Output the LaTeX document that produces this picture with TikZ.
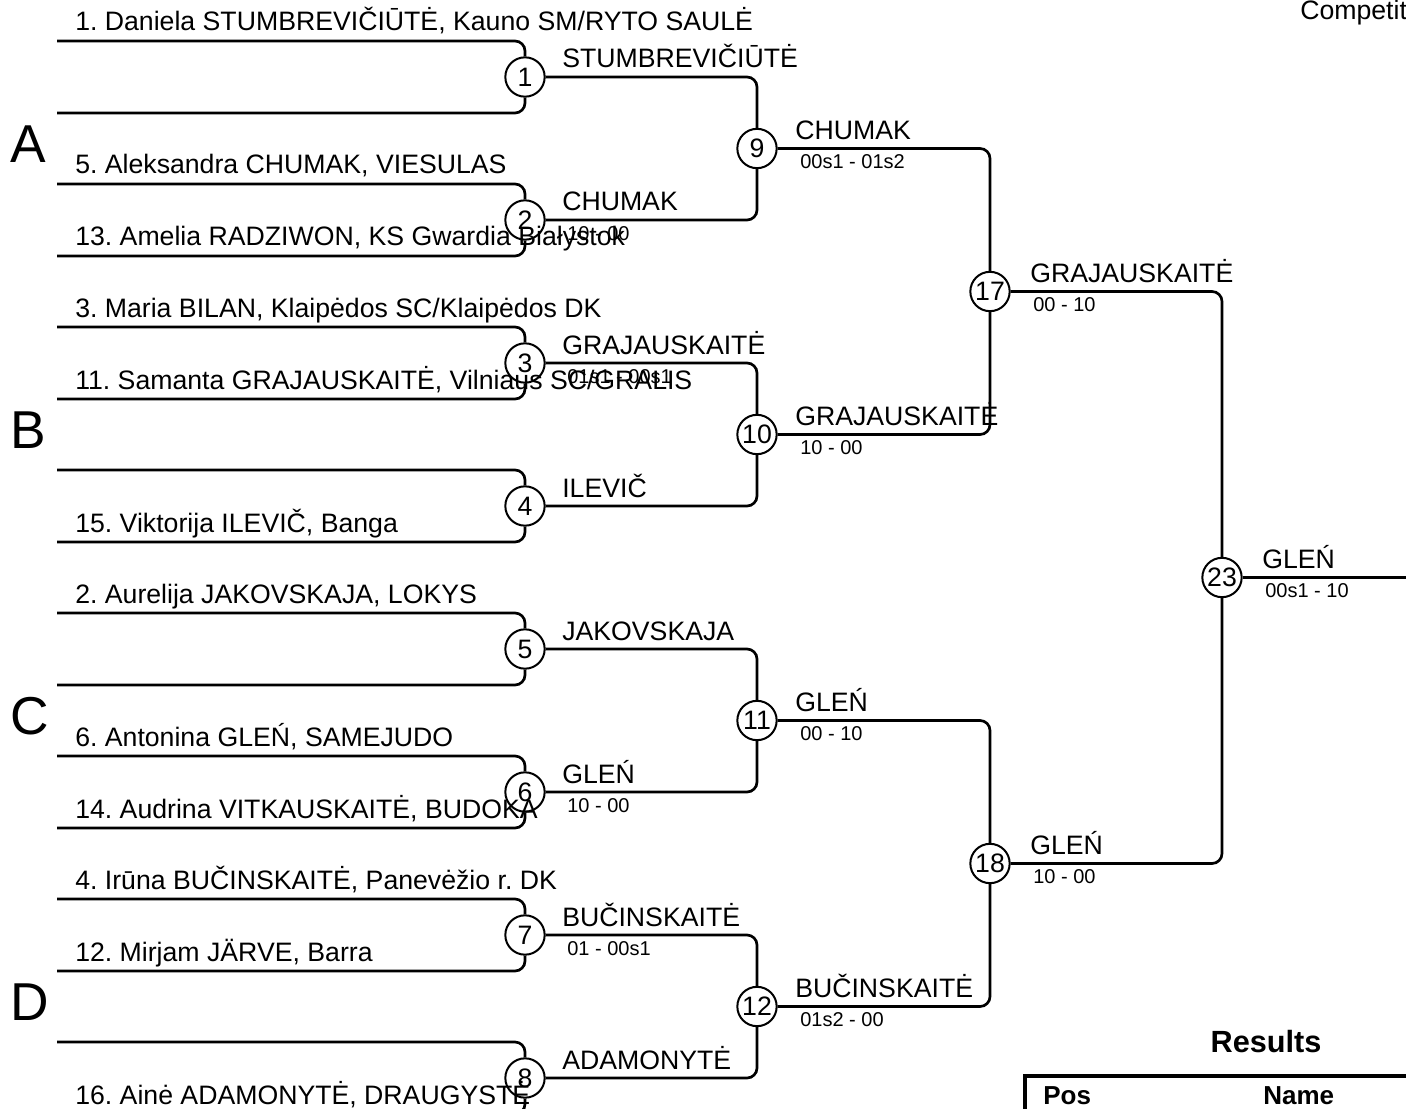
\documentclass[tikz,border=0pt]{standalone}
\usepackage{fontspec}
\setmainfont{Liberation Sans}
\usetikzlibrary{positioning}
\frenchspacing

\begin{document}
\begin{tikzpicture}[
    x=0.75pt, y=0.75pt,
    font=\fontsize{20}{24}\selectfont,
    % Define specific node styles
    match_node/.style={circle, draw=black, line width=1.5pt, fill=white, minimum size=29.5pt, inner sep=0pt},
    entrant_node/.style={anchor=base west, inner sep=0pt},
    winner_node/.style={anchor=base west, inner sep=0pt},
    score_node/.style={anchor=north west, inner sep=0pt, font=\fontsize{15}{18}\selectfont},
    pool_node/.style={anchor=base west, inner sep=0pt, font=\fontsize{40}{48}\selectfont},
    head_node/.style={anchor=base west, inner sep=0pt, font=\fontsize{19.5}{23}\selectfont\bfseries},
    bracket/.style={line width=2pt, rounded corners=7.5pt},
]
\useasboundingbox (0,0) rectangle (1406,-1109);

% Match circles, round by round
\node[match_node] (m1) at (525,-77) {1};
\node[match_node] (m2) at (525,-220) {2};
\node[match_node] (m3) at (525,-363) {3};
\node[match_node] (m4) at (525,-506) {4};
\node[match_node] (m5) at (525,-649) {5};
\node[match_node] (m6) at (525,-792) {6};
\node[match_node] (m7) at (525,-935) {7};
\node[match_node] (m8) at (525,-1078) {8};

\node[match_node] (m9) at (757,-148.5) {9};
\node[match_node] (m10) at (757,-434.5) {10};
\node[match_node] (m11) at (757,-720.5) {11};
\node[match_node] (m12) at (757,-1006.5) {12};

\node[match_node] (m17) at (990,-291.5) {17};
\node[match_node] (m18) at (990,-863.5) {18};

\node[match_node] (m23) at (1222,-577.5) {23};
\coordinate (final) at (1406,-577.5);

% Entrant line starts
\coordinate (e1) at (57,-41);   \coordinate (e2) at (57,-113);
\coordinate (e3) at (57,-184);  \coordinate (e4) at (57,-256);
\coordinate (e5) at (57,-327);  \coordinate (e6) at (57,-399);
\coordinate (e7) at (57,-470);  \coordinate (e8) at (57,-542);
\coordinate (e9) at (57,-613);  \coordinate (e10) at (57,-685);
\coordinate (e11) at (57,-756); \coordinate (e12) at (57,-828);
\coordinate (e13) at (57,-899); \coordinate (e14) at (57,-971);
\coordinate (e15) at (57,-1042); \coordinate (e16) at (57,-1114);

% Connections
\draw[bracket] (e1) -| (m1);  \draw[bracket] (e2) -| (m1);
\draw[bracket] (e3) -| (m2);  \draw[bracket] (e4) -| (m2);
\draw[bracket] (e5) -| (m3);  \draw[bracket] (e6) -| (m3);
\draw[bracket] (e7) -| (m4);  \draw[bracket] (e8) -| (m4);
\draw[bracket] (e9) -| (m5);  \draw[bracket] (e10) -| (m5);
\draw[bracket] (e11) -| (m6); \draw[bracket] (e12) -| (m6);
\draw[bracket] (e13) -| (m7); \draw[bracket] (e14) -| (m7);
\draw[bracket] (e15) -| (m8); \draw[bracket] (e16) -| (m8);

\draw[bracket] (m1) -| (m9);   \draw[bracket] (m2) -| (m9);
\draw[bracket] (m3) -| (m10);  \draw[bracket] (m4) -| (m10);
\draw[bracket] (m5) -| (m11);  \draw[bracket] (m6) -| (m11);
\draw[bracket] (m7) -| (m12);  \draw[bracket] (m8) -| (m12);

\draw[bracket] (m9) -| (m17);  \draw[bracket] (m10) -| (m17);
\draw[bracket] (m11) -| (m18); \draw[bracket] (m12) -| (m18);

\draw[bracket] (m17) -| (m23); \draw[bracket] (m18) -| (m23);
\draw[bracket] (m23) -- (final);

% Entrant names
\node[entrant_node] (n1) at (75,-31) {1. Daniela STUMBREVIČIŪTĖ, Kauno SM/RYTO SAULĖ};
\node[entrant_node] (n5) at (75,-174) {5. Aleksandra CHUMAK, VIESULAS};
\node[entrant_node] (n13) at (75,-246) {13. Amelia RADZIWON, KS Gwardia Białystok};
\node[entrant_node] (n3) at (75,-317) {3. Maria BILAN, Klaipėdos SC/Klaipėdos DK};
\node[entrant_node] (n11) at (75,-389) {11. Samanta GRAJAUSKAITĖ, Vilniaus SC/GRALIS};
\node[entrant_node] (n15) at (75,-532) {15. Viktorija ILEVIČ, Banga};
\node[entrant_node] (n2) at (75,-603) {2. Aurelija JAKOVSKAJA, LOKYS};
\node[entrant_node] (n6) at (75,-746) {6. Antonina GLEŃ, SAMEJUDO};
\node[entrant_node] (n14) at (75,-818) {14. Audrina VITKAUSKAITĖ, BUDOKA};
\node[entrant_node] (n4) at (75,-889) {4. Irūna BUČINSKAITĖ, Panevėžio r. DK};
\node[entrant_node] (n12) at (75,-961) {12. Mirjam JÄRVE, Barra};
\node[entrant_node] (n16) at (75,-1104) {16. Ainė ADAMONYTĖ, DRAUGYSTĖ};

% Winners and scores
\node[winner_node] (w1) at ([shift={(37,9)}]m1.center) {STUMBREVIČIŪTĖ};
\node[winner_node] (w2) at ([shift={(37,9)}]m2.center) {CHUMAK};
\node[score_node] (s2) at ([shift={(42,-6)}]m2.center) {10 - 00};
\node[winner_node] (w3) at ([shift={(37,9)}]m3.center) {GRAJAUSKAITĖ};
\node[score_node] (s3) at ([shift={(42,-6)}]m3.center) {01s1 - 00s1};
\node[winner_node] (w4) at ([shift={(37,9)}]m4.center) {ILEVIČ};
\node[winner_node] (w5) at ([shift={(37,9)}]m5.center) {JAKOVSKAJA};
\node[winner_node] (w6) at ([shift={(37,9)}]m6.center) {GLEŃ};
\node[score_node] (s6) at ([shift={(42,-6)}]m6.center) {10 - 00};
\node[winner_node] (w7) at ([shift={(37,9)}]m7.center) {BUČINSKAITĖ};
\node[score_node] (s7) at ([shift={(42,-6)}]m7.center) {01 - 00s1};
\node[winner_node] (w8) at ([shift={(37,9)}]m8.center) {ADAMONYTĖ};

\node[winner_node] (w9) at ([shift={(38,9)}]m9.center) {CHUMAK};
\node[score_node] (s9) at ([shift={(43,-6)}]m9.center) {00s1 - 01s2};
\node[winner_node] (w10) at ([shift={(38,9)}]m10.center) {GRAJAUSKAITĖ};
\node[score_node] (s10) at ([shift={(43,-6)}]m10.center) {10 - 00};
\node[winner_node] (w11) at ([shift={(38,9)}]m11.center) {GLEŃ};
\node[score_node] (s11) at ([shift={(43,-6)}]m11.center) {00 - 10};
\node[winner_node] (w12) at ([shift={(38,9)}]m12.center) {BUČINSKAITĖ};
\node[score_node] (s12) at ([shift={(43,-6)}]m12.center) {01s2 - 00};

\node[winner_node] (w17) at ([shift={(40,9)}]m17.center) {GRAJAUSKAITĖ};
\node[score_node] (s17) at ([shift={(43,-6)}]m17.center) {00 - 10};
\node[winner_node] (w18) at ([shift={(40,9)}]m18.center) {GLEŃ};
\node[score_node] (s18) at ([shift={(43,-6)}]m18.center) {10 - 00};

\node[winner_node] (w23) at ([shift={(40,9)}]m23.center) {GLEŃ};
\node[score_node] (s23) at ([shift={(43,-6)}]m23.center) {00s1 - 10};

% Pool letters
\node[pool_node] (pa) at (10,-162.5) {A};
\node[pool_node] (pb) at (10,-448.5) {B};
\node[pool_node] (pc) at (10,-734.5) {C};
\node[pool_node] (pd) at (10,-1020.5) {D};

% Header and results table
\node[anchor=base west, inner sep=0pt] (comp) at (1300,-20) {Competit};
\node[anchor=base, inner sep=0pt, font=\fontsize{23}{27}\selectfont\bfseries] (res) at (1266,-1052) {Results};
\node[draw, line width=3.5pt, outer sep=0pt, anchor=north west, minimum width=375pt, minimum height=150pt] (restab) at (1025,-1076) {};
\node[head_node] (pos) at (1043,-1104) {Pos};
\node[head_node] (name) at (1263,-1104) {Name};

\end{tikzpicture}
\end{document}
